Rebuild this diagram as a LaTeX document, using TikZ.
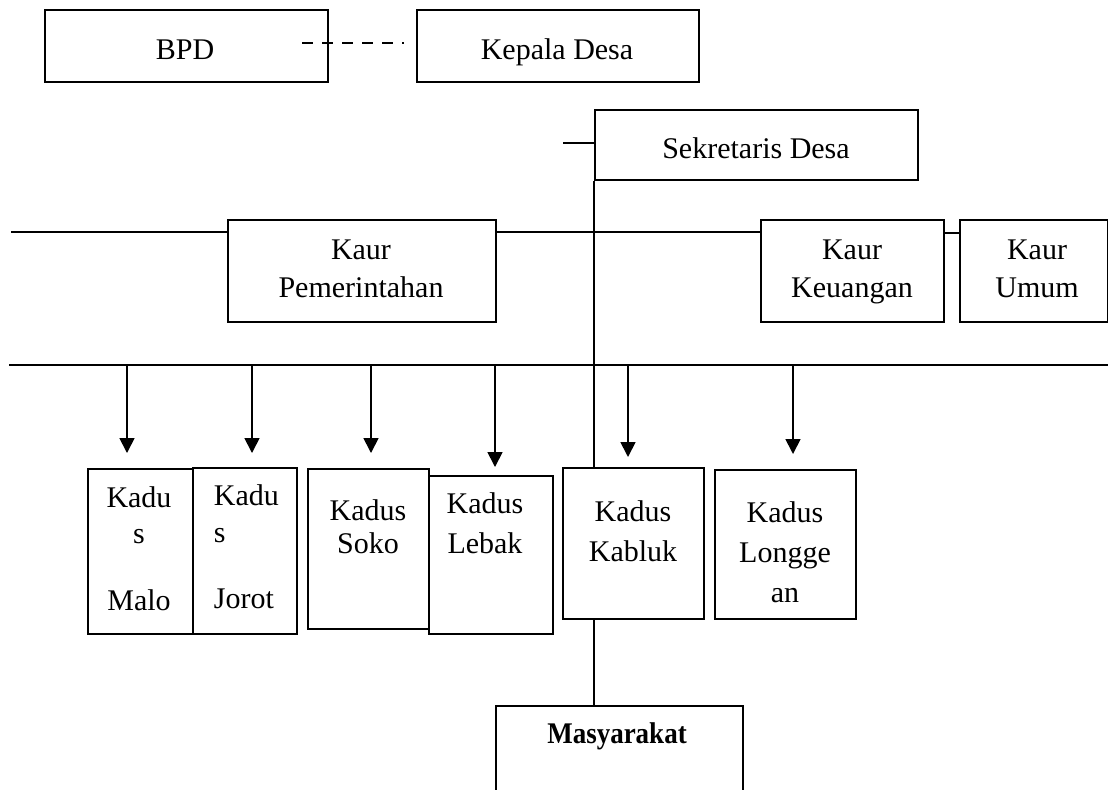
\documentclass[tikz,border=0pt]{standalone}
\usepackage{fontspec}
\usepackage{graphicx}
\setmainfont{Liberation Serif}
\usetikzlibrary{arrows.meta}
\begin{document}
\begin{tikzpicture}[x=0.5pt,y=-0.5pt,line width=0.85pt,
  box/.style={draw,rectangle,inner sep=0pt,anchor=north west},
  txt/.style={font=\fontsize{15}{18}\selectfont,inner sep=0pt,anchor=base},
  arr/.style={-{Triangle[width=7.5pt,length=7.5pt]}}]
\useasboundingbox (0,0) rectangle (1108,789);
% boxes
\node[box,minimum width=141.5pt,minimum height=36pt] (bpd) at (44,9) {};
\node[box,minimum width=141pt,minimum height=36pt] (kades) at (416,9) {};
\node[box,minimum width=161.5pt,minimum height=35pt] (sek) at (594,109) {};
\node[box,minimum width=134pt,minimum height=51pt] (kp) at (227,219) {};
\node[box,minimum width=91.5pt,minimum height=51pt] (kk) at (760,219) {};
\node[box,minimum width=74pt,minimum height=51pt] (ku) at (959,219) {};
\node[box,minimum width=52.5pt,minimum height=82.5pt] (malo) at (87,468) {};
\node[box,minimum width=52pt,minimum height=83pt] (jorot) at (192,467) {};
\node[box,minimum width=60.5pt,minimum height=80pt] (soko) at (307,468) {};
\node[box,minimum width=62pt,minimum height=79pt] (lebak) at (428,475) {};
\node[box,minimum width=70.5pt,minimum height=75.5pt] (kabluk) at (562,467) {};
\node[box,minimum width=70.5pt,minimum height=74.5pt] (longg) at (714,469) {};
\node[box,minimum width=123.5pt,minimum height=57.5pt] (masy) at (495,705) {};
% texts
\node[txt] (tbpd) at (185,59) {BPD};
\node[txt] (tkades) at (557,59) {Kepala Desa};
\node[txt] (tsek) at (756,158) {Sekretaris Desa};
\node[txt] (tkp1) at (361,259) {Kaur};
\node[txt] (tkp2) at (361,297) {Pemerintahan};
\node[txt] (tkk1) at (852,259) {Kaur};
\node[txt] (tkk2) at (852,297) {Keuangan};
\node[txt] (tku1) at (1037,259) {Kaur};
\node[txt] (tku2) at (1037,297) {Umum};
\node[txt] (tm1) at (139,507) {Kadu};
\node[txt] (tm2) at (139,543) {s};
\node[txt] (tm3) at (139,610) {Malo};
\node[txt,anchor=base west] (tj1) at (213,505) {Kadu};
\node[txt,anchor=base west] (tj2) at (213,542) {s};
\node[txt,anchor=base west] (tj3) at (213,608) {Jorot};
\node[txt] (ts1) at (368,520) {Kadus};
\node[txt] (ts2) at (368,553) {Soko};
\node[txt] (tl1) at (485,513) {Kadus};
\node[txt] (tl2) at (485,553) {Lebak};
\node[txt] (tkb1) at (633,521) {Kadus};
\node[txt] (tkb2) at (633,561) {Kabluk};
\node[txt] (tlg1) at (785,522) {Kadus};
\node[txt] (tlg2) at (785,562) {Longge};
\node[txt] (tlg3) at (785,602) {an};
\node[txt] (tmasy) at (617,743) {\bfseries\scalebox{0.9}[1]{Masyarakat}};
% connectors
\coordinate (d0) at (302,43);
\coordinate (d1) at (404,43);
\draw[dash pattern=on 5.5pt off 4.5pt] (d0) -- (d1);
\coordinate (s0) at (563,143);
\draw (s0) -- (s0 -| sek.west);
\draw (sek.south west) -- (sek.south west |- kabluk.north);
\draw (sek.south west |- kabluk.south) -- (sek.south west |- masy.north);
\coordinate (h1) at (11,232);
\coordinate (h1b) at (944,233);
\draw (h1) -- (h1 -| kp.west);
\draw (h1 -| kp.east) -- (h1 -| kk.west);
\draw (h1b -| kk.east) -- (h1b -| ku.west);
\coordinate (h2a) at (9,365);
\coordinate (h2b) at (1108,365);
\draw (h2a) -- (h2b);
\coordinate (a1) at (127,365); \coordinate (e1) at (127,453);
\coordinate (a2) at (252,365); \coordinate (e2) at (252,453);
\coordinate (a3) at (371,365); \coordinate (e3) at (371,453);
\coordinate (a4) at (495,365); \coordinate (e4) at (495,467);
\coordinate (a5) at (628,365); \coordinate (e5) at (628,457);
\coordinate (a6) at (793,365); \coordinate (e6) at (793,454);
\foreach \i in {1,...,6} {\draw[arr] (a\i) -- (e\i);}
\end{tikzpicture}
\end{document}
